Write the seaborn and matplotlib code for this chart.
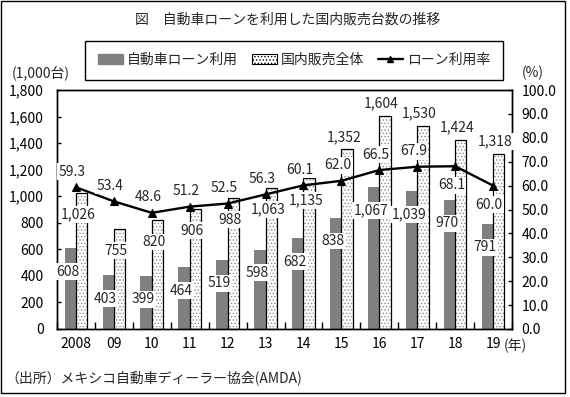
import numpy as np
import pandas as pd
import matplotlib
matplotlib.use('Agg')
import matplotlib.pyplot as plt
import seaborn as sns
from matplotlib.patches import Patch, Rectangle
from matplotlib.lines import Line2D
from matplotlib.ticker import FuncFormatter

# ---- data ----
years = ['2008', '09', '10', '11', '12', '13', '14', '15', '16', '17', '18', '19']
loan_units = [608, 403, 399, 464, 519, 598, 682, 838, 1067, 1039, 970, 791]
total_units = [1026, 755, 820, 906, 988, 1063, 1135, 1352, 1604, 1530, 1424, 1318]
loan_rate = [59.3, 53.4, 48.6, 51.2, 52.5, 56.3, 60.1, 62.0, 66.5, 67.9, 68.1, 60.0]
series_names = ['自動車ローン利用', '国内販売全体']
rate_name = 'ローン利用率'
left_ticks = list(range(0, 1801, 200))
right_ticks = [i * 10 for i in range(11)]

# label placement (style)
total_label_side = ['below'] * 7 + ['above'] * 5
rate_label_side = ['above'] * 10 + ['below'] * 2

sns.set_theme(style='white')
plt.rcParams['font.family'] = ['Noto Sans CJK JP', 'DejaVu Sans']
plt.rcParams['font.size'] = 10
plt.rcParams['hatch.linewidth'] = 0.6

W, H = 570, 397
fig = plt.figure(figsize=(W / 100, H / 100), dpi=100)
ax = fig.add_axes([57 / W, 1 - 329 / H, (512 - 57) / W, (329 - 90) / H])

df = pd.DataFrame({
    'year': years * 2,
    'value': loan_units + total_units,
    'series': [series_names[0]] * len(years) + [series_names[1]] * len(years),
})
sns.barplot(data=df, x='year', y='value', hue='series', order=years,
            hue_order=series_names, palette=['#808080', '#ffffff'],
            width=0.6, dodge=True, saturation=1, legend=False, ax=ax,
            linewidth=0)

for p in ax.containers[1]:
    p.set_facecolor('white')
    p.set_hatch('.....')
    p.set_edgecolor('#8c8c8c')
    p.set_linewidth(0)
    ax.add_patch(Rectangle((p.get_x(), p.get_y()), p.get_width(), p.get_height(),
                           fill=False, edgecolor='black', lw=0.9,
                           zorder=p.get_zorder() + 0.1))

ax.set_xlim(-0.5, len(years) - 0.5)
ax.set_ylim(0, 1800)
ax.set_yticks(left_ticks)
ax.yaxis.set_major_formatter(FuncFormatter(lambda v, _: f'{int(v):,}'))
ax.set_xlabel('')
ax.set_ylabel('')
ax.set_xticks(range(len(years)))
ax.set_xticklabels(years)
ax.set_xticks(np.arange(-0.5, len(years), 1), minor=True)
ax.tick_params(axis='x', which='major', length=0, pad=6, labelsize=10, colors='black')
ax.tick_params(axis='x', which='minor', bottom=True, direction='in', length=5,
               width=1, color='black')
ax.tick_params(axis='y', left=True, direction='in', length=3, width=1, pad=9.5,
               labelsize=10, colors='black')
for s in ax.spines.values():
    s.set_color('black')
    s.set_linewidth(1)

ax2 = ax.twinx()
sns.lineplot(x=np.arange(len(years)), y=loan_rate, ax=ax2, color='black',
             marker='^', markersize=6, markeredgecolor='black', lw=1.7, zorder=3)
ax2.set_ylim(0, 100)
ax2.set_yticks(right_ticks)
ax2.yaxis.set_major_formatter(FuncFormatter(lambda v, _: f'{v:.1f}'))
ax2.tick_params(axis='y', right=True, direction='in', length=3, width=1, pad=7,
                labelsize=10, colors='black')
ax2.set_ylabel('')
ax2.set_xlim(-0.5, len(years) - 0.5)
for s in ax2.spines.values():
    s.set_color('black')
    s.set_linewidth(1)

box = dict(facecolor='white', edgecolor='none', pad=1.0)
for i, v in enumerate(loan_units):
    ax2.text(i - 0.22, v - 175, f'{v:,}', transform=ax.transData, ha='center',
             va='center', fontsize=10, bbox=box, zorder=5)
for i, v in enumerate(total_units):
    y = v - 165 if total_label_side[i] == 'below' else v + 95
    ax2.text(i + 0.06, y, f'{v:,}', transform=ax.transData, ha='center',
             va='center', fontsize=10, bbox=box, zorder=5)
for i, r in enumerate(loan_rate):
    y = r + 6.5 if rate_label_side[i] == 'above' else r - 8
    ax2.text(i - 0.1, y, f'{r:.1f}', ha='center', va='center', fontsize=10,
             bbox=box, zorder=6)

# texts
fig.text(288 / W, 1 - 20 / H, '図　自動車ローンを利用した国内販売台数の推移',
         ha='center', va='center', fontsize=10)
fig.text(12 / W, 1 - 73 / H, '(1,000台)', ha='left', va='center', fontsize=10)
fig.text(522 / W, 1 - 73 / H, '(%)', ha='left', va='center', fontsize=10)
fig.text(504 / W, 1 - 346 / H, '(年)', ha='left', va='center', fontsize=10)
fig.text(5 / W, 1 - 378 / H, '（出所）メキシコ自動車ディーラー協会(AMDA)',
         ha='left', va='center', fontsize=10)

handles = [
    Patch(facecolor='#808080', edgecolor='#808080'),
    Patch(facecolor='white', edgecolor='black', hatch='.....', lw=0.8),
    Line2D([], [], color='black', marker='^', lw=1.7, markersize=5),
]
leg = fig.legend(handles, series_names + [rate_name], loc='center',
                 bbox_to_anchor=(294 / W, 1 - 60 / H), ncol=3, frameon=True,
                 fancybox=False, edgecolor='black', borderpad=0.9,
                 handlelength=1.8, handletextpad=0.3, columnspacing=1.0,
                 fontsize=10)
leg.get_frame().set_linewidth(1)
leg.get_frame().set_alpha(1)

fig.add_artist(Rectangle((1 / W, 4 / H), 564 / W, 392 / H, transform=fig.transFigure,
                         fill=False, edgecolor='black', lw=1))

fig.savefig('out.png', dpi=100)
